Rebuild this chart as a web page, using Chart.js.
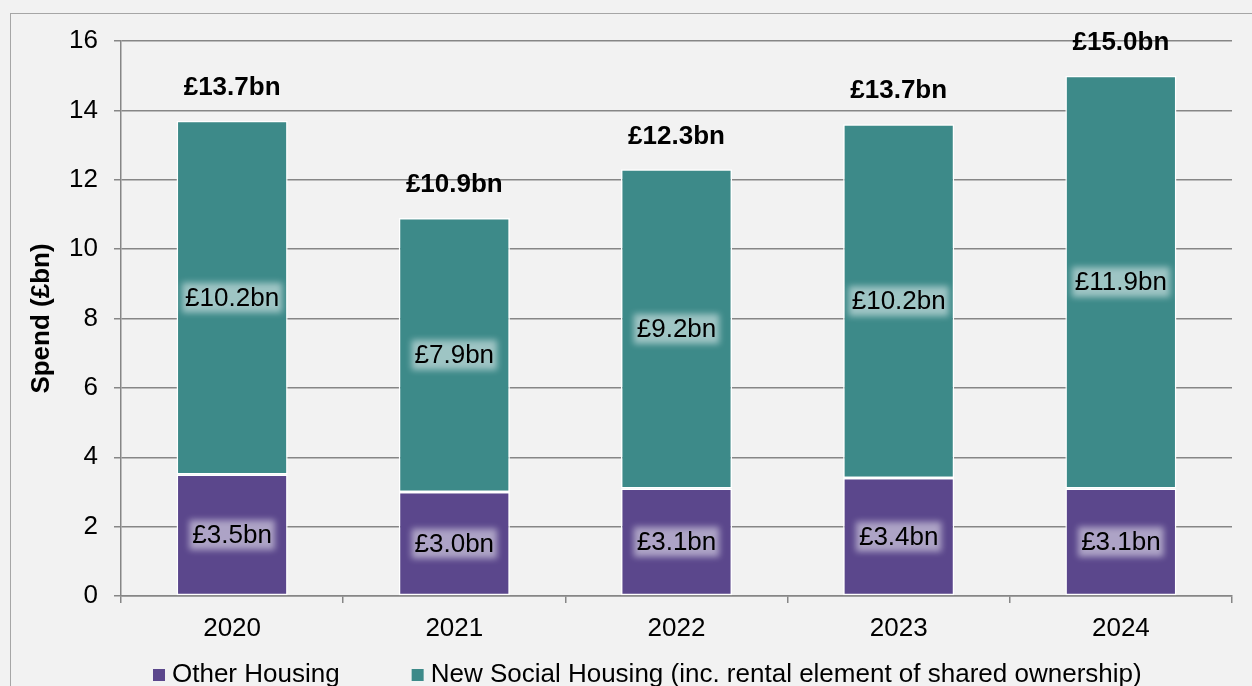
<!DOCTYPE html>
<html>
<head>
<meta charset="utf-8">
<script src="https://cdn.jsdelivr.net/npm/chart.js@4.4.0/dist/chart.umd.min.js"></script>
<style>
  html, body { margin: 0; padding: 0; background: #f2f2f2; overflow: hidden; }
  #wrap { position: absolute; left: 0; top: 0; width: 1252px; height: 686px; }
  #frame { position: absolute; left: 10px; top: 13px; width: 1300px; height: 720px;
           border: 1.5px solid #a6a6a6; box-sizing: border-box; }
</style>
</head>
<body>
<div id="frame"></div>
<div id="wrap"><canvas id="spend_Chart" width="1252" height="686"></canvas></div>
<script>
// 연도별 지출 (£bn)
const years = ['2020', '2021', '2022', '2023', '2024'];
const otherHousing = [3.5, 3.0, 3.1, 3.4, 3.1];
const newSocialHousing = [10.2, 7.9, 9.2, 10.2, 11.9];
const totals = [13.7, 10.9, 12.3, 13.7, 15.0];
const yTicks = [0, 2, 4, 6, 8, 10, 12, 14, 16];

const FONT = '"Liberation Sans", Arial, sans-serif';
const PURPLE = '#5b478c';
const TEAL = '#3d8a89';

// 막대 안 라벨 + 위쪽 합계 라벨
const barLabels = {
    id: 'barLabels',
    afterDatasetsDraw(chart) {
        const ctx = chart.ctx;
        ctx.save();
        ctx.textAlign = 'center';
        ctx.textBaseline = 'middle';
        chart.data.datasets.forEach((ds, di) => {
            const meta = chart.getDatasetMeta(di);
            meta.data.forEach((bar, i) => {
                const text = '£' + ds.data[i].toFixed(1) + 'bn';
                const cy = (bar.y + bar.base) / 2;
                ctx.font = '26px ' + FONT;
                const w = ctx.measureText(text).width;
                // 글자 뒤 흐릿한 밝은 배경
                ctx.save();
                ctx.filter = 'blur(3px)';
                ctx.fillStyle = 'rgba(255, 255, 255, 0.5)';
                ctx.fillRect(bar.x - w / 2 - 3, cy - 15, w + 6, 30);
                ctx.restore();
                ctx.fillStyle = '#000';
                ctx.fillText(text, bar.x, cy + 1);
            });
        });
        const top = chart.getDatasetMeta(chart.data.datasets.length - 1);
        ctx.font = 'bold 26px ' + FONT;
        ctx.fillStyle = '#000';
        top.data.forEach((bar, i) => {
            ctx.fillText('£' + totals[i].toFixed(1) + 'bn', bar.x, bar.y - 33);
        });
        ctx.restore();
    }
};

// 하단 범례 (상자와 글자 간격을 좁게)
const bottomLegend = {
    id: 'bottomLegend',
    afterDraw(chart) {
        const ctx = chart.ctx;
        ctx.save();
        ctx.font = '26px ' + FONT;
        ctx.textBaseline = 'middle';
        ctx.textAlign = 'left';
        const y = 675;
        let x = chart.chartArea.left + 32;
        chart.data.datasets.forEach((ds) => {
            ctx.fillStyle = ds.backgroundColor;
            ctx.fillRect(x, y - 6, 12, 12);
            ctx.fillStyle = '#000';
            ctx.fillText(ds.label, x + 19, y);
            x += 19 + ctx.measureText(ds.label).width + 72;
        });
        ctx.restore();
    }
};

const ctxSpend = document.getElementById('spend_Chart').getContext('2d');
new Chart(ctxSpend, {
    type: 'bar',
    data: {
        labels: years,
        datasets: [{
            label: 'Other Housing',
            data: otherHousing,
            backgroundColor: PURPLE,
            borderColor: '#ffffff',
            borderWidth: 1.5,
            borderSkipped: false,
            barPercentage: 1,
            categoryPercentage: 0.5
        }, {
            label: 'New Social Housing (inc. rental element of shared ownership)',
            data: newSocialHousing,
            backgroundColor: TEAL,
            borderColor: '#ffffff',
            borderWidth: 1.5,
            borderSkipped: false,
            barPercentage: 1,
            categoryPercentage: 0.5
        }]
    },
    options: {
        responsive: false,
        animation: false,
        layout: {
            padding: { left: 0, right: 20, top: 41, bottom: 40 }
        },
        plugins: {
            legend: { display: false },
            tooltip: { enabled: false }
        },
        scales: {
            x: {
                stacked: true,
                afterFit(axis) {
                    axis.height = 50;
                },
                grid: {
                    offset: true,
                    drawOnChartArea: false,
                    drawTicks: true,
                    tickLength: 7,
                    color: '#868686',
                    lineWidth: 1.5
                },
                border: { color: '#868686', width: 1.5 },
                ticks: {
                    font: { family: FONT, size: 26 },
                    color: '#000',
                    padding: 10
                }
            },
            y: {
                stacked: true,
                min: 0,
                max: 16,
                afterBuildTicks(axis) {
                    axis.ticks = yTicks.map(v => ({ value: v }));
                },
                afterFit(axis) {
                    axis.width = 121;
                },
                title: {
                    display: true,
                    text: 'Spend (£bn)',
                    font: { family: FONT, size: 26, weight: 'bold' },
                    color: '#000',
                    padding: { top: 26, bottom: 0 }
                },
                grid: {
                    color: '#868686',
                    lineWidth: 1.5,
                    tickLength: 7
                },
                border: { color: '#868686', width: 1.5 },
                ticks: {
                    font: { family: FONT, size: 26 },
                    color: '#000',
                    padding: 16
                }
            }
        }
    },
    plugins: [barLabels, bottomLegend]
});
</script>
</body>
</html>
